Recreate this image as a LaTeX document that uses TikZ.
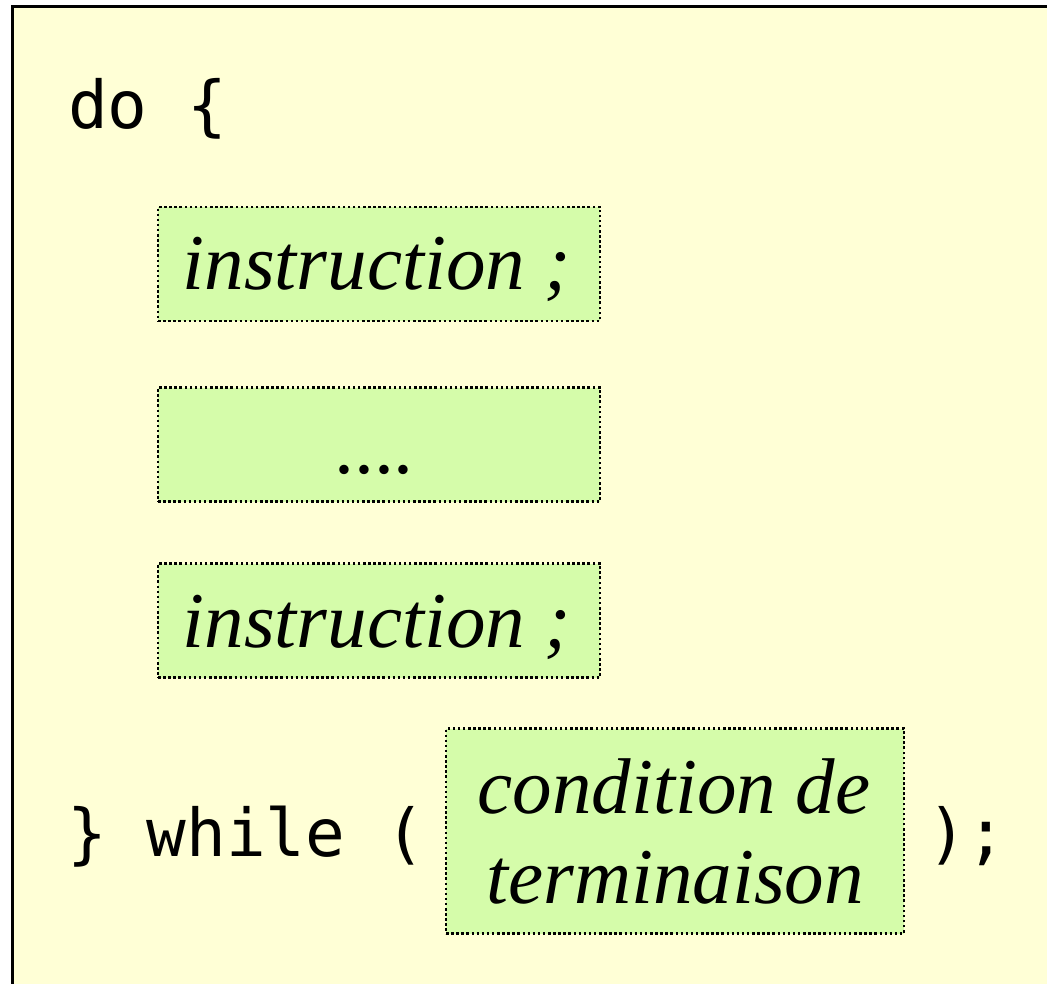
\documentclass[tikz,border=0pt]{standalone}
\usepackage{fontspec}
\newfontfamily\codefont{DejaVu Sans Mono}
\newfontfamily\timesfont{Liberation Serif}
\definecolor{paleyellow}{HTML}{FFFFD6}
\definecolor{palegreen}{HTML}{D5FCAA}
\tikzset{
  greenbox/.style={draw=black, fill=palegreen, line width=2.8pt, dash pattern=on 2.5pt off 2.6pt, rectangle, inner sep=0pt},
  itext/.style={inner sep=0pt, anchor=base, font=\timesfont\itshape\fontsize{79}{90}\selectfont},
  ctext/.style={inner sep=0pt, anchor=base west, font=\codefont\fontsize{66}{76}\selectfont},
}
\begin{document}
\begin{tikzpicture}[x=1pt,y=-1pt]
\useasboundingbox (0,0) rectangle (1047,984);
\fill[white] (0,0) rectangle (1047,984);
\begin{scope}
\clip (0,0) rectangle (1047,984);
\draw[fill=paleyellow, line width=3pt] (12.5,6.5) rectangle (1100,1100);
\end{scope}
% code text
\node[ctext] (do) at (68,129) {do \{};
\node[ctext] (while) at (67,856) {\} while (};
\node[ctext] (close) at (927,856) {);};
% boxes
\node[greenbox, minimum width=442pt, minimum height=114pt] (b1) at (379,264) {};
\node[greenbox, minimum width=442pt, minimum height=114pt] (b2) at (379,444.5) {};
\node[greenbox, minimum width=442pt, minimum height=114pt] (b3) at (379,620.5) {};
\node[greenbox, minimum width=458pt, minimum height=205pt] (b4) at (675,831) {};
% box texts
\node[itext] (t1) at (377,290) {instruction ;};
\node[itext] (t2) at (376,473) {....};
\node[itext] (t3) at (377,647) {instruction ;};
\node[itext] (t4a) at (674,813) {condition de};
\node[itext] (t4b) at (675,903) {terminaison};
\end{tikzpicture}
\end{document}
